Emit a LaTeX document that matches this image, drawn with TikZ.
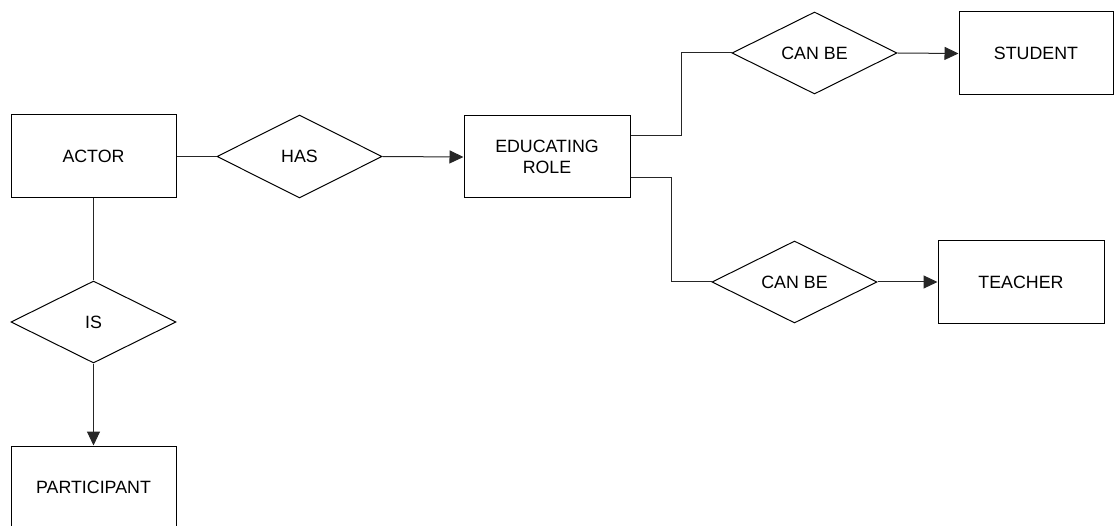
\documentclass[tikz,border=0pt]{standalone}
\usepackage{fontspec}
\setmainfont{Liberation Sans}
\usetikzlibrary{shapes.geometric,arrows.meta}
\begin{document}
\begin{tikzpicture}[x=1pt,y=-1pt,
  entity/.style={draw=black,line width=1pt,rectangle,inner sep=0pt,
    minimum width=165pt,minimum height=83pt,align=center,
    font=\fontsize{17.8}{21}\selectfont},
  relation/.style={draw=black,line width=1pt,diamond,aspect=2,inner sep=0pt,
    minimum width=165pt,minimum height=83pt,
    font=\fontsize{17.8}{21}\selectfont},
  link/.style={draw=black!85,line width=1pt},
  arrowlink/.style={link,-{Triangle[length=14pt,width=13pt]}}]
  \useasboundingbox (0,0) rectangle (1115,526);
  \clip (0,0) rectangle (1115,526);

  % entities
  \node[entity] (actor) at (93.5,156.5) {ACTOR};
  \node[entity,minimum width=166pt,minimum height=82pt] (role) at (547,157) {EDUCATING\\ROLE};
  \node[entity,minimum width=154pt] (student) at (1036,53.5) {STUDENT};
  \node[entity,minimum width=166pt,minimum height=82pt] (teacher) at (1021,282) {TEACHER};
  \node[entity] (participant) at (93.5,487.5) {PARTICIPANT};

  % relationships
  \node[relation] (has) at (299.5,156.5) {HAS};
  \node[relation,minimum height=82pt] (canbeS) at (814.5,53) {CAN BE};
  \node[relation,minimum height=82pt] (canbeT) at (794.5,282) {CAN BE};
  \node[relation,minimum height=82pt] (is) at (93.5,322) {IS};

  % connectors
  \draw[link] (actor.east) -- (has.west);
  \draw[arrowlink] (has.east) -- (role.west);
  \draw[link] ([yshift=21pt]role.east) -- ++(51,0) |- (canbeS.west);
  \draw[link] ([yshift=-21pt]role.east) -- ++(41,0) |- (canbeT.west);
  \draw[arrowlink] (canbeS.east) -- (student.west);
  \draw[arrowlink] (canbeT.east) -- (teacher.west);
  \draw[link] (actor.south) -- (is.north);
  \draw[arrowlink] (is.south) -- (participant.north);
\end{tikzpicture}
\end{document}
